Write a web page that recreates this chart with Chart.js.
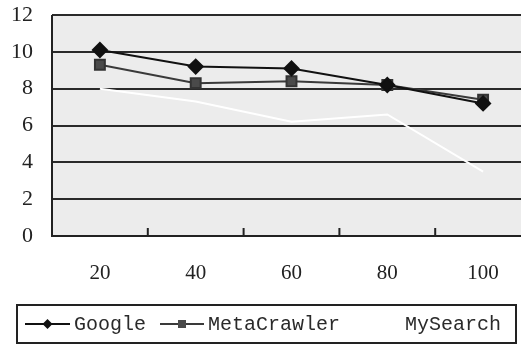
<!DOCTYPE html>
<html lang="en">
<head>
    <meta charset="UTF-8">
    <title>Search comparison</title>
    <script src="https://cdn.jsdelivr.net/npm/chart.js@4.4.0/dist/chart.umd.min.js"></script>
    <style>
        body { margin: 0; background: #fff; overflow: hidden; }
        #wrap { width: 521px; height: 345px; overflow: hidden; }
    </style>
</head>
<body>
<div id="wrap"><canvas id="myChart" width="540" height="345"></canvas></div>
<script>
    const xlabels     = ['20', '40', '60', '80', '100'];
    const google      = [10.1, 9.2, 9.1, 8.2, 7.2];
    const metacrawler = [9.3, 8.3, 8.4, 8.2, 7.4];
    const mysearch    = [8.0, 7.3, 6.2, 6.6, 3.5];
    const yticks      = [0, 2, 4, 6, 8, 10, 12];

    // grey plot background
    const plotBg = {
        id: 'plotBg',
        afterLayout(chart) {
            // pin the plot top to where the original has it
            const y = chart.scales.y;
            chart.chartArea.top = 15;
            chart.chartArea.height = chart.chartArea.bottom - 15;
            y.top = 15;
            y.height = y.bottom - 15;
            y.configure();
        },
        beforeDraw(chart) {
            const {ctx, chartArea: a} = chart;
            ctx.save();
            ctx.fillStyle = '#ececec';
            ctx.fillRect(a.left, a.top, a.right - a.left, a.bottom - a.top);
            ctx.restore();
        }
    };

    // short inward tick marks between categories + custom boxed legend
    const extras = {
        id: 'extras',
        afterDatasetsDraw(chart) {
            const {ctx, chartArea: a} = chart;
            const x = chart.scales.x;
            ctx.save();
            ctx.strokeStyle = '#222';
            ctx.lineWidth = 2;
            for (let i = 0; i < xlabels.length - 1; i++) {
                const px = (x.getPixelForValue(i) + x.getPixelForValue(i + 1)) / 2;
                ctx.beginPath();
                ctx.moveTo(px, a.bottom);
                ctx.lineTo(px, a.bottom - 8);
                ctx.stroke();
            }
            // axis frame
            ctx.beginPath();
            ctx.moveTo(a.left, a.top);
            ctx.lineTo(a.left, a.bottom);
            ctx.lineTo(a.right, a.bottom);
            ctx.stroke();

            // legend box
            ctx.strokeStyle = '#222';
            ctx.lineWidth = 2;
            ctx.strokeRect(17, 305, 499, 38);
            ctx.font = '20px "Liberation Mono"';
            ctx.textBaseline = 'middle';
            const ly = 324;
            const items = [
                {ds: 0, x0: 25, x1: 70, tx: 74},
                {ds: 1, x0: 160, x1: 204, tx: 208},
                {ds: 2, x0: 355, x1: 398, tx: 405}
            ];
            items.forEach(it => {
                const d = chart.data.datasets[it.ds];
                ctx.strokeStyle = d.borderColor;
                ctx.lineWidth = 2;
                ctx.beginPath();
                ctx.moveTo(it.x0, ly);
                ctx.lineTo(it.x1, ly);
                ctx.stroke();
                const mx = (it.x0 + it.x1) / 2;
                ctx.fillStyle = d.pointBackgroundColor;
                if (d.pointStyle === 'rectRot') {
                    ctx.beginPath();
                    ctx.moveTo(mx, ly - 5);
                    ctx.lineTo(mx + 5, ly);
                    ctx.lineTo(mx, ly + 5);
                    ctx.lineTo(mx - 5, ly);
                    ctx.closePath();
                    ctx.fill();
                } else if (d.pointStyle === 'rect') {
                    ctx.fillRect(mx - 4, ly - 4, 8, 8);
                }
                ctx.fillStyle = '#2a2a2a';
                ctx.fillText(d.label, it.tx, ly + 1);
            });
            ctx.restore();
        }
    };

    const ctx = document.getElementById('myChart').getContext('2d');
    const myChart = new Chart(ctx, {
        type: 'line',
        data: {
            labels: xlabels,
            datasets: [{
                label: 'Google',
                data: google,
                borderColor: '#111',
                pointBackgroundColor: '#111',
                pointBorderColor: '#111',
                pointStyle: 'rectRot',
                pointRadius: 7,
                borderWidth: 2
            }, {
                label: 'MetaCrawler',
                data: metacrawler,
                borderColor: '#3a3a3a',
                pointBackgroundColor: '#4a4a4a',
                pointBorderColor: '#333',
                pointStyle: 'rect',
                pointRadius: 7,
                borderWidth: 2
            }, {
                label: 'MySearch',
                data: mysearch,
                borderColor: '#ffffff',
                pointBackgroundColor: '#ffffff',
                pointBorderColor: '#ffffff',
                pointStyle: 'rect',
                pointRadius: 0,
                borderWidth: 2
            }]
        },
        options: {
            responsive: false,
            animation: false,
            layout: { padding: 0 },
            plugins: {
                legend: { display: false },
                tooltip: { enabled: false }
            },
            scales: {
                x: {
                    offset: true,
                    grid: { display: false, drawTicks: false },
                    border: { display: false },
                    ticks: {
                        padding: 25,
                        color: '#222',
                        font: { family: '"Liberation Serif"', size: 21 }
                    },
                    afterFit(scale) { scale.height = 109; }
                },
                y: {
                    min: 0,
                    max: 12,
                    afterBuildTicks(scale) { scale.ticks = yticks.map(v => ({value: v})); },
                    grid: { color: '#2a2a2a', lineWidth: 2, drawTicks: false },
                    border: { display: false },
                    ticks: {
                        padding: 19,
                        color: '#222',
                        font: { family: '"Liberation Serif"', size: 22 }
                    },
                    afterFit(scale) { scale.width = 52; }
                }
            }
        },
        plugins: [plotBg, extras]
    });
</script>
</body>
</html>
